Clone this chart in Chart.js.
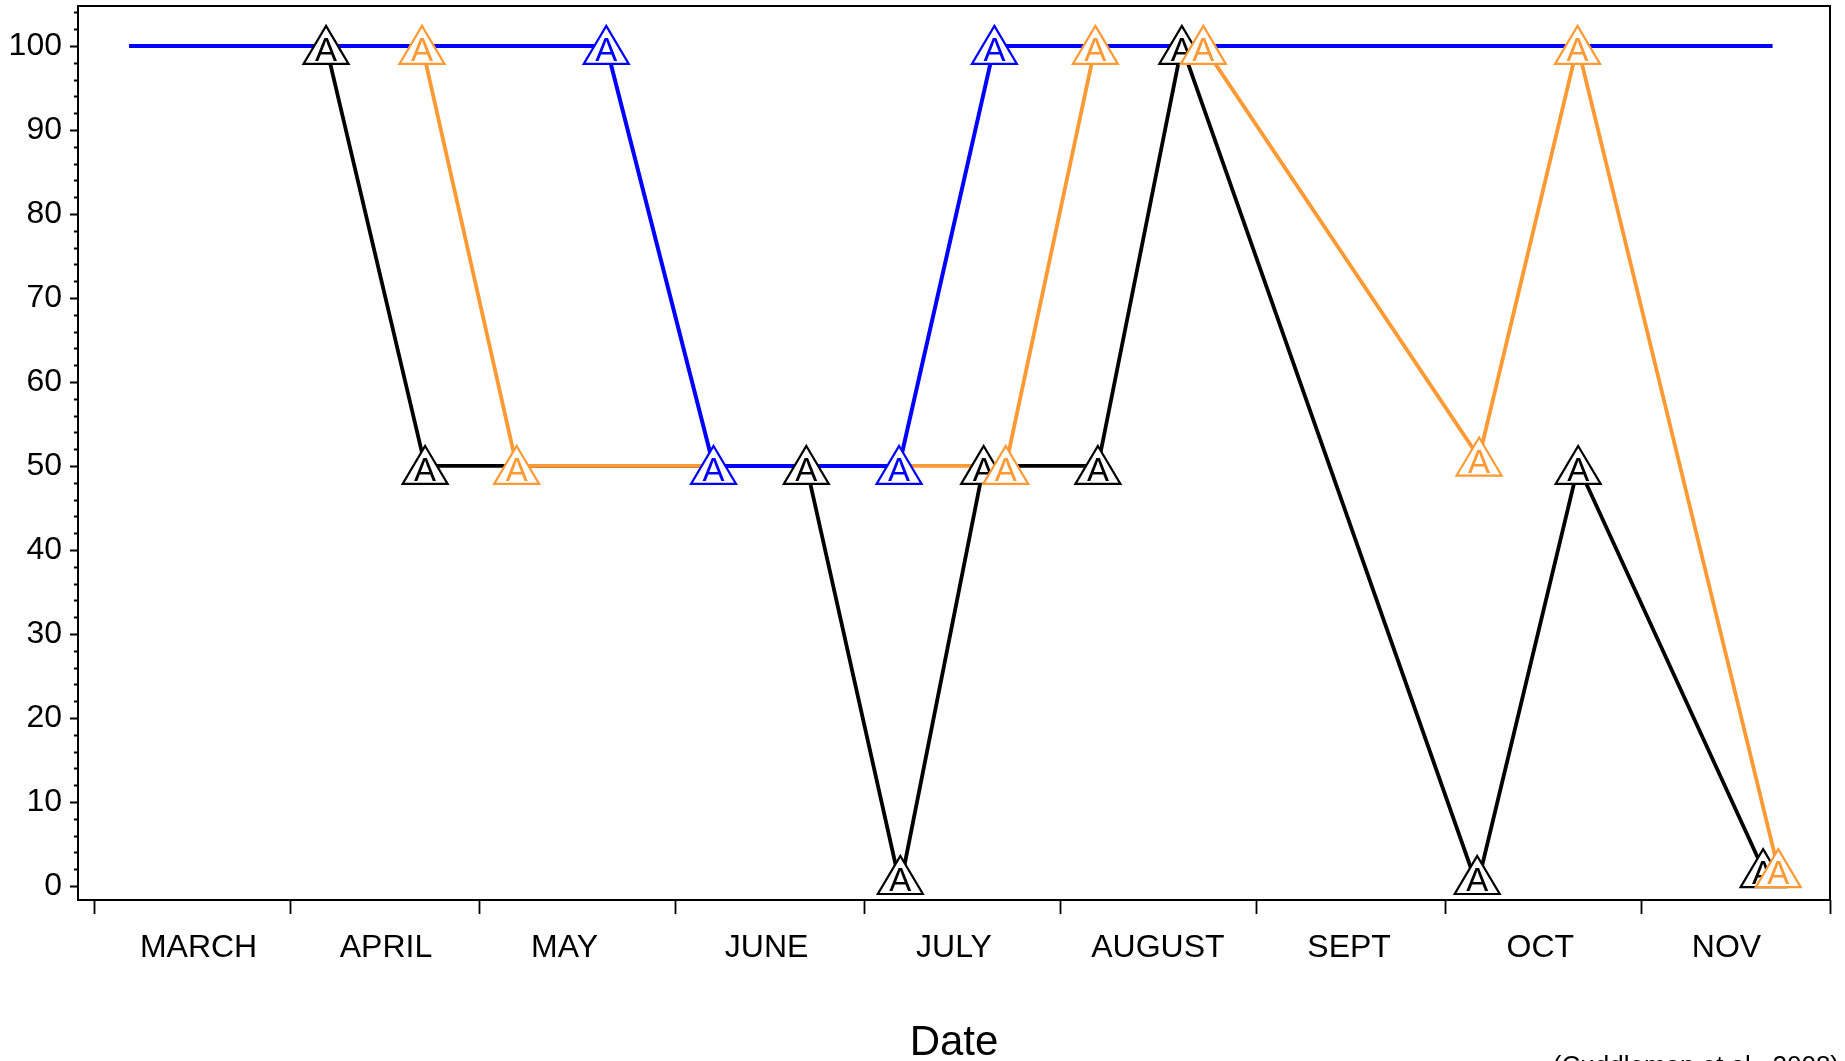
<!DOCTYPE html>
<html>
<head>
<meta charset="utf-8">
<title>Date</title>
<script src="https://cdn.jsdelivr.net/npm/chart.js@4/dist/chart.umd.min.js"></script>
<style>
  html, body { margin: 0; padding: 0; background: #fff; }
  .chart__box { width: 1845px; height: 1061px; }
</style>
</head>
<body>
<div class="chart__box"><canvas id="chartDate"></canvas></div>
<script>
// days counted from 1 March
const monthLabels = ['MARCH', 'APRIL', 'MAY', 'JUNE', 'JULY', 'AUGUST', 'SEPT', 'OCT', 'NOV']
const monthStart = [0, 31, 61, 92, 122, 153, 184, 214, 245, 275]
const monthLabelDay = [16.5, 46.2, 74.5, 106.5, 136.2, 168.5, 198.8, 229.1, 258.6]
const yTicks = [0, 10, 20, 30, 40, 50, 60, 70, 80, 90, 100]

const blackDay = [5.5, 36.7, 52.4, 112.8, 127.7, 140.9, 159.0, 172.3, 219.1, 235.1, 264.4]
const blackPct = [100, 100, 50, 50, 0, 50, 50, 100, 0, 50, 2]

const orangeDay = [5.5, 51.9, 66.9, 144.4, 158.6, 175.7, 219.4, 235.0, 266.8]
const orangePct = [100, 100, 50, 50, 100, 100, 51, 100, 2]

const blueDay = [5.5, 81.1, 98.1, 127.5, 142.6, 265.9]
const bluePct = [100, 100, 50, 50, 100, 100]

const citation = '(Cuddleman et al., 2008)'

const FONT = "'Liberation Sans', Arial, sans-serif"

function pts(days, vals) {
    return days.map((d, i) => ({ x: d, y: vals[i] }))
}

const frame = {
    id: 'frame',
    afterDraw(chart) {
        const ctx = chart.ctx
        const a = chart.chartArea
        const xs = chart.scales.x
        const ys = chart.scales.y
        ctx.save()
        ctx.strokeStyle = '#000'
        ctx.lineWidth = 2
        ctx.strokeRect(a.left, a.top, a.right - a.left, a.bottom - a.top)
        ctx.lineWidth = 1.8
        ctx.beginPath()
        for (let v = 0; v <= 104; v += 2) {
            const y = Math.round(ys.getPixelForValue(v)) + 0.5
            const len = v % 10 === 0 ? 8 : 4
            ctx.moveTo(a.left - len, y)
            ctx.lineTo(a.left, y)
        }
        monthStart.forEach(d => {
            const x = Math.round(xs.getPixelForValue(d)) + 0.5
            ctx.moveTo(x, a.bottom)
            ctx.lineTo(x, a.bottom + 14)
        })
        ctx.stroke()
        ctx.fillStyle = '#000'
        ctx.font = '26px ' + FONT
        ctx.textAlign = 'right'
        ctx.textBaseline = 'alphabetic'
        ctx.fillText(citation, chart.width - 6, chart.height + 13)
        ctx.restore()
    }
}

// triangle with an A inside, kept inside the plot frame like the original
const symbols = {
    id: 'symbols',
    afterDatasetsDraw(chart) {
        const ctx = chart.ctx
        const a = chart.chartArea
        const drawOrder = [0, 2, 1]
        ctx.save()
        drawOrder.forEach(di => {
            const ds = chart.data.datasets[di]
            const meta = chart.getDatasetMeta(di)
            meta.data.forEach((p, i) => {
                if (ds.noSymbol.includes(i)) return
                const x = p.x
                let y = p.y
                if (y + 18 > a.bottom - 6) y = a.bottom - 24
                ctx.beginPath()
                ctx.moveTo(x, y - 20)
                ctx.lineTo(x + 22.5, y + 18)
                ctx.lineTo(x - 22.5, y + 18)
                ctx.closePath()
                ctx.fillStyle = '#fff'
                ctx.fill()
                ctx.lineWidth = 2.2
                ctx.strokeStyle = ds.borderColor
                ctx.stroke()
                ctx.fillStyle = ds.borderColor
                ctx.font = '33px ' + FONT
                ctx.textAlign = 'center'
                ctx.textBaseline = 'alphabetic'
                ctx.fillText('A', x, y + 15)
            })
        })
        ctx.restore()
    }
}

const ctx = document.getElementById('chartDate')
const myChart = new Chart(ctx, {
    type: 'line',
    data: {
        datasets: [
            {
                label: 'black',
                data: pts(blackDay, blackPct),
                borderColor: '#000000',
                borderWidth: 3.8,
                order: 3,
                noSymbol: [0],
            },
            {
                label: 'orange',
                data: pts(orangeDay, orangePct),
                borderColor: '#ff9933',
                borderWidth: 3.8,
                order: 2,
                noSymbol: [0],
            },
            {
                label: 'blue',
                data: pts(blueDay, bluePct),
                borderColor: '#0000ff',
                borderWidth: 4,
                order: 1,
                noSymbol: [0, blueDay.length - 1],
            },
        ],
    },
    options: {
        responsive: true,
        maintainAspectRatio: false,
        animation: false,
        events: [],
        layout: { padding: { left: 0, top: 6, right: 15, bottom: 0 } },
        elements: {
            line: { tension: 0, fill: false, borderCapStyle: 'butt' },
            point: { radius: 0, hoverRadius: 0 },
        },
        plugins: {
            legend: { display: false },
            tooltip: { enabled: false },
        },
        scales: {
            x: {
                type: 'linear',
                min: -2.6,
                max: 275,
                afterFit: s => { s.height = 161; s.paddingLeft = 0; s.paddingRight = 0 },
                afterBuildTicks: s => { s.ticks = monthLabelDay.map(v => ({ value: v })) },
                grid: { display: false, drawTicks: false },
                border: { display: false },
                ticks: {
                    autoSkip: false,
                    maxRotation: 0,
                    padding: 29,
                    color: '#000',
                    font: { family: FONT, size: 32 },
                    callback: (v, i) => monthLabels[i],
                },
                title: {
                    display: true,
                    text: 'Date',
                    color: '#000',
                    font: { family: FONT, size: 42, lineHeight: 0.84 },
                    padding: { top: 0, bottom: 0 },
                },
            },
            y: {
                min: -1.67,
                max: 104.75,
                afterFit: s => { s.width = 78; s.paddingTop = 0; s.paddingBottom = 0 },
                afterBuildTicks: s => { s.ticks = yTicks.map(v => ({ value: v })) },
                grid: { display: false, drawTicks: false },
                border: { display: false },
                ticks: {
                    padding: 16,
                    color: '#000',
                    font: { family: FONT, size: 32 },
                },
            },
        },
    },
    plugins: [frame, symbols],
})
</script>
</body>
</html>
